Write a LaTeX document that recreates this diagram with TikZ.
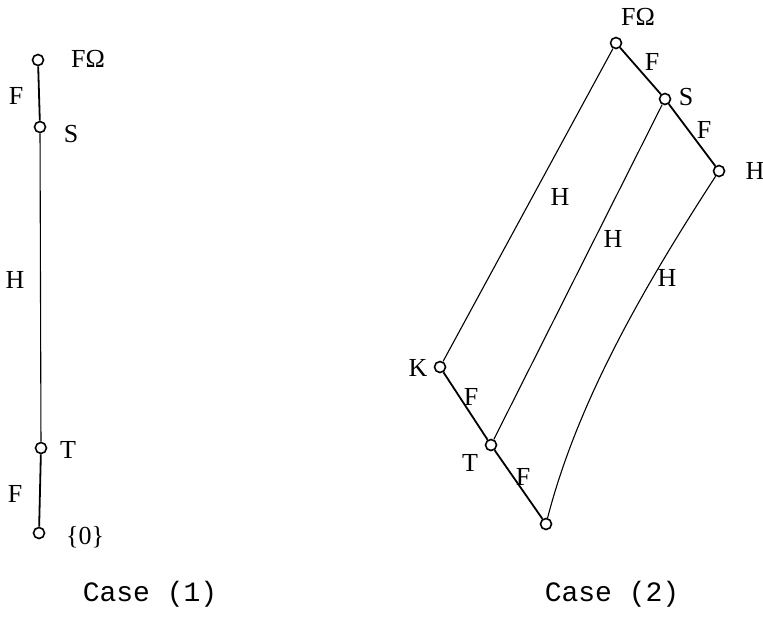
\documentclass[tikz,border=0pt]{standalone}
\usepackage{fontspec}
\setmainfont{Liberation Serif}
\newfontfamily\casefont{Liberation Mono}
\usetikzlibrary{positioning}

\tikzset{
  pt/.style={draw, circle, fill=white, inner sep=0pt, minimum size=5.5pt, line width=0.8pt},
  lbl/.style={font=\fontsize{13}{15}\selectfont, inner sep=1pt},
  fedge/.style={line width=0.9pt},
  hedge/.style={line width=0.55pt},
  caselbl/.style={font=\casefont\fontsize{14}{16}\selectfont}
}

\begin{document}
\begin{tikzpicture}[x=0.5pt, y=-0.5pt]
  \useasboundingbox (0,0) rectangle (763,616);

  % case (1): a chain
  \node[pt] (omA) at (38,60) {};
  \node[pt] (sA) at (40,127) {};
  \node[pt] (tA) at (41,448) {};
  \node[pt] (zA) at (39,533) {};
  \draw[fedge] (omA) -- (sA);
  \draw[hedge] (sA) -- (tA);
  \draw[fedge] (tA) -- (zA);
  \node[lbl] (omAl) at (88,59) {FΩ};
  \node[lbl] (sAl) at (71,134) {S};
  \node[lbl] (tAl) at (68,450) {T};
  \node[lbl] (zAl) at (85,537) {\{0\}};
  \node[lbl] (fA1) at (16,96) {F};
  \node[lbl] (hA) at (15,280) {H};
  \node[lbl] (fA2) at (15,494) {F};
  \node[caselbl] (caseA) at (150,594) {Case (1)};

  % case (2): two chains joined by H
  \node[pt] (omB) at (616,43) {};
  \node[pt] (sB) at (665,99) {};
  \node[pt] (hB) at (719,171) {};
  \node[pt] (kB) at (440,367) {};
  \node[pt] (tB) at (491,445) {};
  \node[pt] (zB) at (546,524) {};
  \draw[fedge] (omB) -- (sB);
  \draw[fedge] (sB) -- (hB);
  \draw[fedge] (kB) -- (tB);
  \draw[fedge] (tB) -- (zB);
  \draw[hedge] (omB) -- (kB);
  \draw[hedge] (sB) -- (tB);
  \draw[hedge] (hB) .. controls (645,285) and (578,400) .. (zB);
  \node[lbl] (omBl) at (638,17) {FΩ};
  \node[lbl] (sBl) at (686,97) {S};
  \node[lbl] (hBl) at (755,171) {H};
  \node[lbl] (kBl) at (418,368) {K};
  \node[lbl] (tBl) at (470,463) {T};
  \node[lbl] (fB1) at (652,62) {F};
  \node[lbl] (fB2) at (704,130) {F};
  \node[lbl] (fB3) at (471,397) {F};
  \node[lbl] (fB4) at (523,477) {F};
  \node[lbl] (hB1) at (560,197) {H};
  \node[lbl] (hB2) at (613,239) {H};
  \node[lbl] (hB3) at (667,278) {H};
  \node[caselbl] (caseB) at (612,594) {Case (2)};
\end{tikzpicture}
\end{document}
